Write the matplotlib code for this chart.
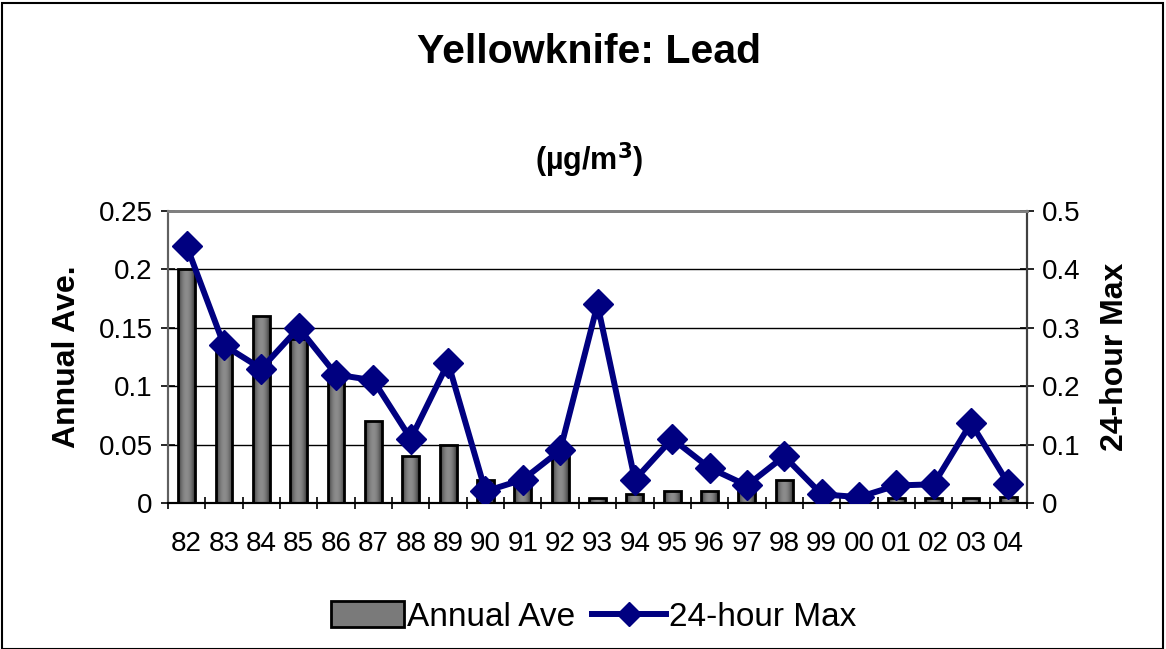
import matplotlib.pyplot as plt
import numpy as np
from matplotlib.patches import Rectangle
from matplotlib.lines import Line2D

# данные с графика
years = ['82', '83', '84', '85', '86', '87', '88', '89', '90', '91', '92', '93',
         '94', '95', '96', '97', '98', '99', '00', '01', '02', '03', '04']
annual_ave = [0.2, 0.13, 0.16, 0.14, 0.11, 0.07, 0.04, 0.05, 0.02, 0.02, 0.04, 0.004,
              0.008, 0.01, 0.01, 0.01, 0.02, 0.0, 0.0, 0.004, 0.004, 0.004, 0.005]
max_24h = [0.44, 0.27, 0.23, 0.30, 0.22, 0.21, 0.11, 0.24, 0.02, 0.04, 0.09, 0.34,
           0.04, 0.11, 0.06, 0.03, 0.08, 0.015, 0.01, 0.03, 0.032, 0.137, 0.033]

plt.rcParams['font.family'] = ['Liberation Sans', 'DejaVu Sans']

fig = plt.figure(figsize=(11.66, 6.49), dpi=100)
ax = fig.add_axes([168 / 1166, 1 - 503 / 649, (1027 - 168) / 1166, (503 - 211) / 649])
x = np.arange(len(years))

# столбцы с градиентом
bars = ax.bar(x, annual_ave, width=0.45, color='none', edgecolor='black', linewidth=2, zorder=3)
grad = np.abs(np.linspace(-1, 1, 64))
grad = 0.55 - 0.35 * grad ** 2
grad = np.tile(grad, (2, 1))
for b in bars:
    h = b.get_height()
    if h <= 0:
        continue
    x0 = b.get_x()
    im = ax.imshow(grad, cmap='gray', vmin=0, vmax=1, aspect='auto',
                   extent=(x0, x0 + b.get_width(), 0, h), zorder=2, interpolation='bilinear')
    im.set_clip_path(b)

ax.set_xlim(-0.5, len(years) - 0.5)
ax.set_ylim(0, 0.25)
ax.set_yticks([0, 0.05, 0.1, 0.15, 0.2, 0.25])
ax.set_yticklabels(['0', '0.05', '0.1', '0.15', '0.2', '0.25'])
ax.set_xticks(x)
ax.set_xticklabels(years)
ax.set_xticks(np.arange(-0.5, len(years), 1), minor=True)
ax.tick_params(axis='x', which='major', length=0, labelsize=20, pad=20)
ax.tick_params(axis='x', which='minor', length=8, width=1.2, direction='inout')
ax.tick_params(axis='y', length=10, width=1.2, direction='inout', labelsize=20, pad=6)
ax.grid(axis='y', color='black', linewidth=1, zorder=0)
ax.set_axisbelow(True)
ax.spines['top'].set_color('#808080')
ax.spines['top'].set_linewidth(2)
ax.spines['left'].set_color('#606060')
for s in ['left', 'bottom', 'right']:
    ax.spines[s].set_linewidth(1.5)
ax.set_ylabel('Annual Ave.', fontsize=23, fontweight='bold', labelpad=12)

ax2 = ax.twinx()
ax2.plot(x, max_24h, color='#000080', linewidth=4.3, marker='D', markersize=15, zorder=4)
ax2.set_ylim(0, 0.5)
ax2.set_yticks([0, 0.1, 0.2, 0.3, 0.4, 0.5])
ax2.set_yticklabels(['0', '0.1', '0.2', '0.3', '0.4', '0.5'])
ax2.tick_params(axis='y', length=10, width=1.2, direction='inout', labelsize=20, pad=6)
for s in ['left', 'bottom', 'right']:
    ax2.spines[s].set_linewidth(1.5)
ax2.spines['right'].set_color('#404040')
ax2.spines['left'].set_color('#606060')
ax2.spines['top'].set_color('#808080')
ax2.spines['top'].set_linewidth(2)
ax2.set_ylabel('24-hour Max', fontsize=23, fontweight='bold', labelpad=14)

fig.text(0.505, 1 - 52 / 649, 'Yellowknife: Lead', ha='center', va='center',
         fontsize=29.5, fontweight='bold')
fig.text(0.505, 1 - 160 / 649, r'(µg/m$^\mathbf{3}$)', ha='center', va='center',
         fontsize=22, fontweight='bold')

# легенда
h1 = Rectangle((0, 0), 1, 1, facecolor='#7a7a7a', edgecolor='black', linewidth=2)
h2 = Line2D([], [], color='#000080', linewidth=4.3, marker='D', markersize=12)
fig.legend([h1, h2], ['Annual Ave', '24-hour Max'], loc='center',
           bbox_to_anchor=(0.509, 1 - 617 / 649), ncol=2, frameon=False,
           fontsize=24, handlelength=2.2, handleheight=0.8, handletextpad=0.1,
           columnspacing=0.5)

fig.patches.append(Rectangle((0.002, 0.0), 0.995, 0.995, transform=fig.transFigure,
                             fill=False, edgecolor='black', linewidth=1.5))

plt.savefig('out.png', dpi=100)
